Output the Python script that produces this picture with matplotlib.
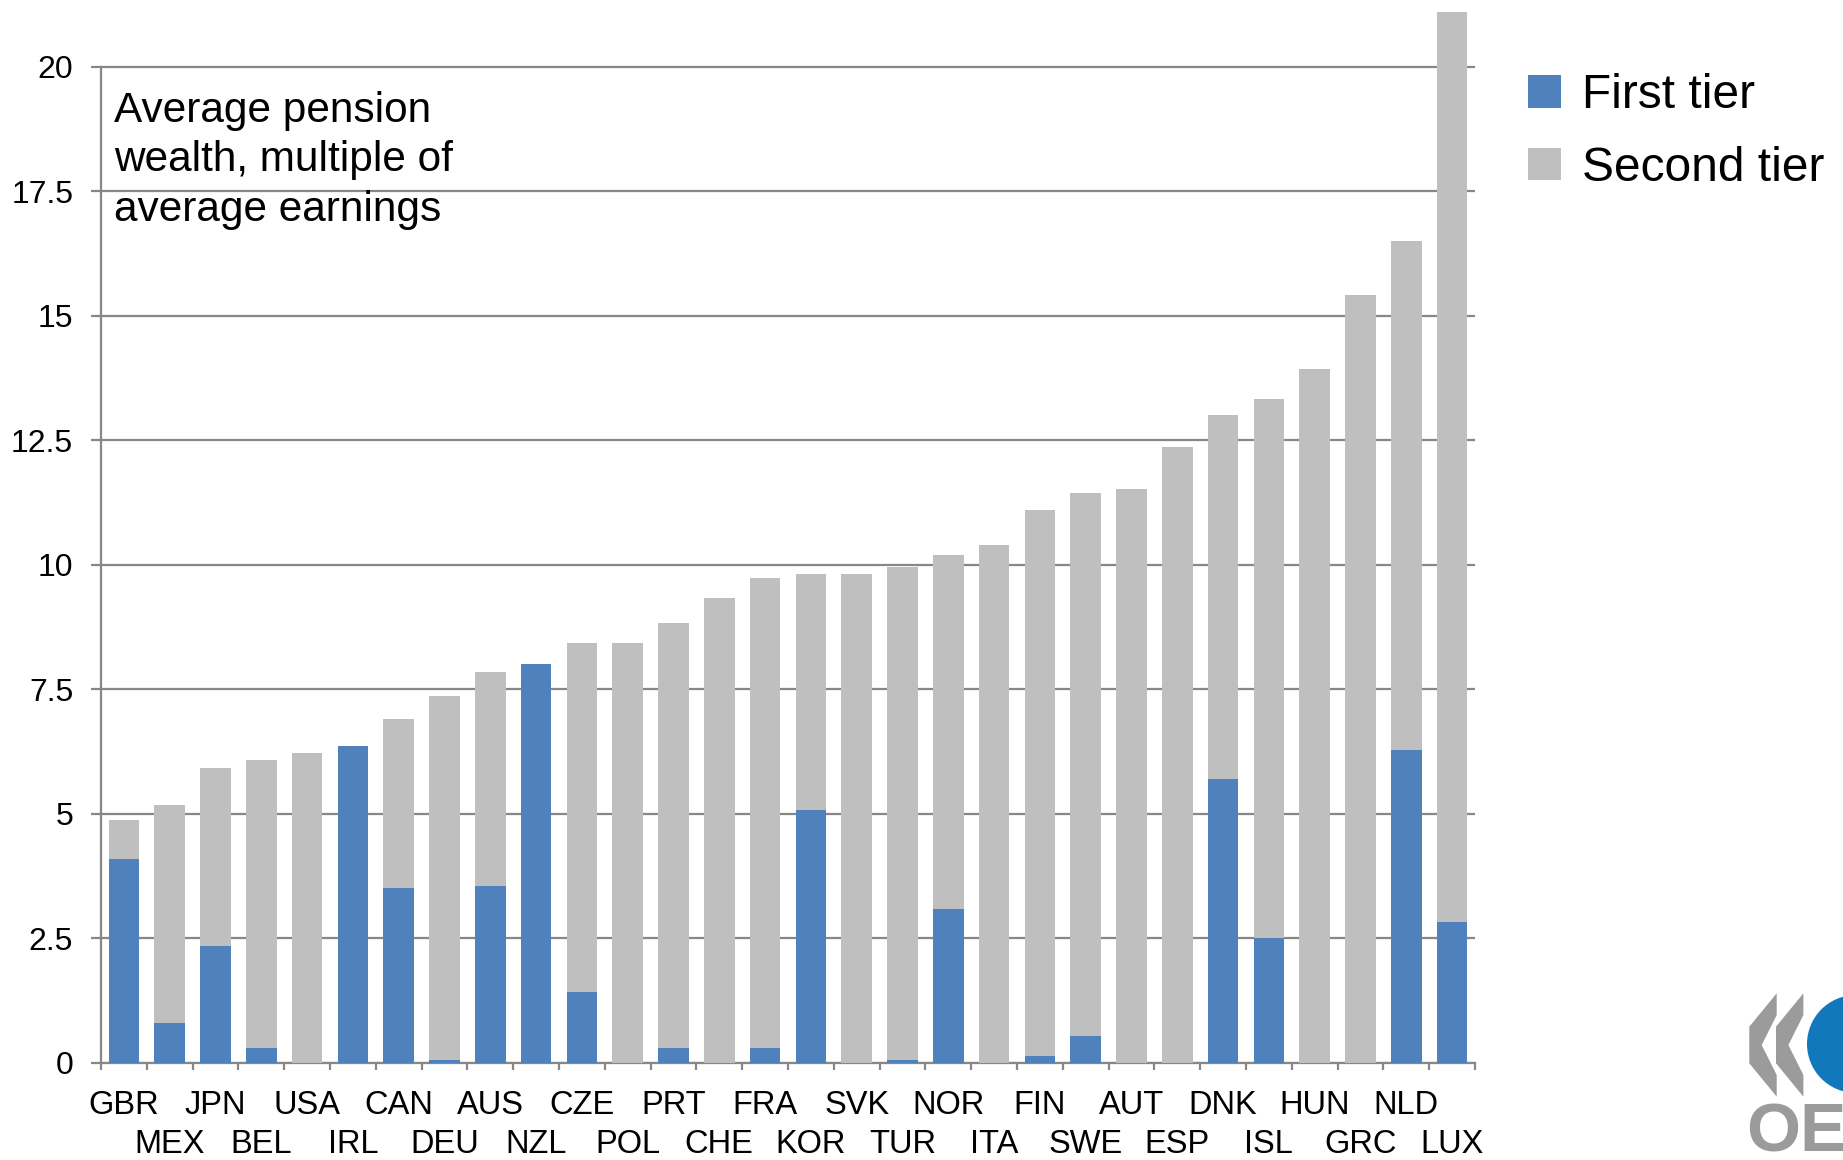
import matplotlib
matplotlib.use("Agg")
import matplotlib.pyplot as plt
import numpy as np
from matplotlib.patches import Polygon, Circle
from matplotlib.transforms import ScaledTranslation

plt.rcParams['font.family'] = ['Liberation Sans', 'DejaVu Sans']

countries = ["GBR", "MEX", "JPN", "BEL", "USA", "IRL", "CAN", "DEU", "AUS", "NZL",
             "CZE", "POL", "PRT", "CHE", "FRA", "KOR", "SVK", "TUR", "NOR", "ITA",
             "FIN", "SWE", "AUT", "ESP", "DNK", "ISL", "HUN", "GRC", "NLD", "LUX"]
first_tier = [4.10, 0.79, 2.35, 0.30, 0.00, 6.35, 3.51, 0.06, 3.55, 8.00,
              1.42, 0.00, 0.30, 0.00, 0.30, 5.08, 0.00, 0.06, 3.08, 0.00,
              0.13, 0.53, 0.00, 0.00, 5.70, 2.51, 0.00, 0.00, 6.27, 2.82]
second_tier = [0.77, 4.38, 3.56, 5.78, 6.22, 0.00, 3.39, 7.31, 4.29, 0.00,
               7.01, 8.43, 8.53, 9.33, 9.43, 4.74, 9.82, 9.90, 7.12, 10.39,
               10.97, 10.90, 11.52, 12.37, 7.30, 10.82, 13.93, 15.42, 10.22, 18.28]
yticks = [0, 2.5, 5, 7.5, 10, 12.5, 15, 17.5, 20]
ytick_labels = ["0", "2.5", "5", "7.5", "10", "12.5", "15", "17.5", "20"]

BLUE = "#4F81BD"
GREY = "#BFBFBF"
LINE = "#878787"

W, H = 1843, 1160
fig = plt.figure(figsize=(W / 100, H / 100), dpi=100)
ax = fig.add_axes((101 / W, 97.3 / H, 1374 / W, 1051.8 / H))

x = np.arange(len(countries))
ax.bar(x, first_tier, width=0.67, color=BLUE, label="First tier", zorder=3)
ax.bar(x, second_tier, bottom=first_tier, width=0.67, color=GREY,
       label="Second tier", zorder=3)

ax.set_xlim(-0.5, len(countries) - 0.5)
ax.set_ylim(0, 21.12)
ax.set_yticks(yticks, ytick_labels)
ax.yaxis.grid(True, color=LINE, lw=1.6)
ax.set_axisbelow(True)

for s in ["top", "right"]:
    ax.spines[s].set_visible(False)
ax.spines["left"].set_bounds(0, 20)
for s in ["left", "bottom"]:
    ax.spines[s].set_color(LINE)
    ax.spines[s].set_linewidth(1.6)

# country labels on two staggered rows, ticks between categories
ax.set_xticks(x, countries)
ax.set_xticks(np.arange(len(countries) + 1) - 0.5, minor=True)
ax.tick_params(axis="x", which="major", length=0, pad=20, labelsize=23.5)
ax.tick_params(axis="x", which="minor", length=5, width=1.6, color=LINE)
ax.tick_params(axis="y", length=7, width=1.6, color=LINE, pad=13, labelsize=23)
down = ScaledTranslation(0, -0.39, fig.dpi_scale_trans)
for i, lab in enumerate(ax.get_xticklabels()):
    if i % 2:
        lab.set_transform(lab.get_transform() + down)

fig.text(114 / W, 1 - 91 / H, "Average pension\nwealth, multiple of\naverage earnings",
         fontsize=30.5, va="top", ha="left", linespacing=1.3)

fig.legend(loc="upper left", bbox_to_anchor=(1528 / W, 1 - 73 / H), frameon=False,
           fontsize=34.5, handlelength=0.68, handleheight=0.68, handletextpad=0.45,
           labelspacing=0.58, borderpad=0, borderaxespad=0)

# logo in the lower right corner, coordinates in pixels from the top left
def px(pts):
    return [(a / 100, (H - b) / 100) for a, b in pts]

chev = [(1776.7, 993.3), (1749.3, 1026.7), (1749.3, 1063.3), (1776.7, 1096.7),
        (1776.7, 1075), (1761.7, 1045), (1776.7, 1015)]
for dx in (0, 26.7):
    fig.patches.append(Polygon(px([(a + dx, b) for a, b in chev]), closed=True,
                               facecolor="#9B9B9B", edgecolor="none",
                               transform=fig.dpi_scale_trans))
fig.patches.append(Circle((1856 / 100, (H - 1044) / 100), 49 / 100,
                          facecolor="#1078BB", edgecolor="none",
                          transform=fig.dpi_scale_trans))
fig.text(1746 / W, 1 - 1152 / H, "OECD", fontsize=50, fontweight="bold",
         color="#9B9B9B", ha="left", va="baseline")

fig.savefig("out.png", dpi=100, facecolor="white")
